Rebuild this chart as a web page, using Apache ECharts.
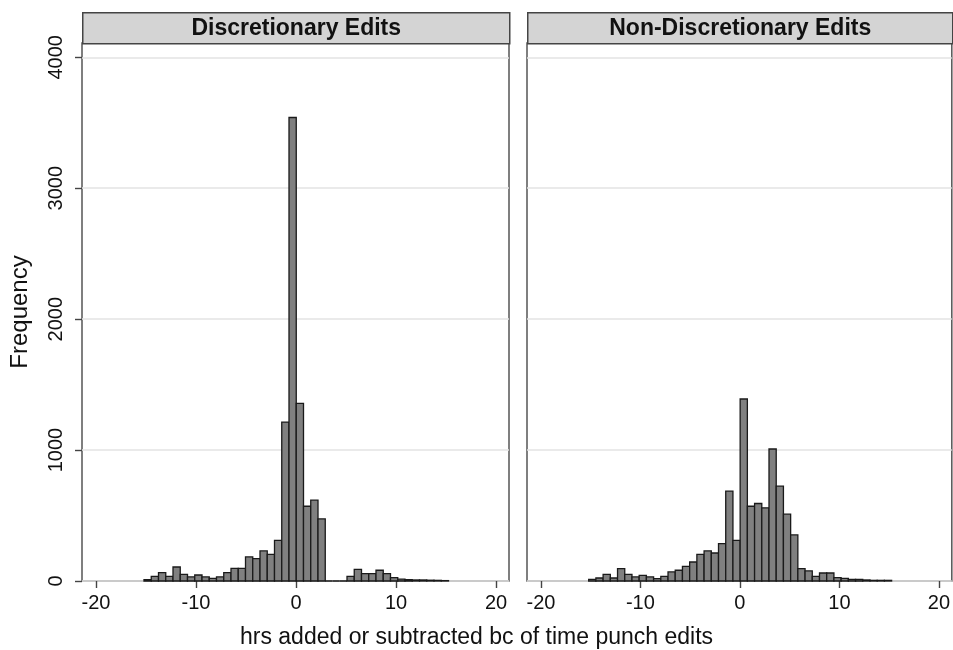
<!DOCTYPE html>
<html>
<head>
<meta charset="utf-8">
<script src="https://cdn.jsdelivr.net/npm/echarts@6/dist/echarts.min.js"></script>
<style>
html,body{margin:0;padding:0;background:#fff;}
#chart{width:953px;height:650px;}
</style>
</head>
<body>
<div id="chart"></div>
<script>
// Histogram bins (hours)
const binStart = -15.2;
const binWidth = 0.725;
const panelTitles = ['Discretionary Edits', 'Non-Discretionary Edits'];
const xTicks = [-20, -10, 0, 10, 20];
const yTicks = [0, 1000, 2000, 3000, 4000];
const xTitle = 'hrs added or subtracted bc of time punch edits';
const yTitle = 'Frequency';

// Frequencies per bin, left to right
const discretionary = [10, 36, 64, 36, 107, 51, 31, 46, 31, 20, 31, 64, 97, 97, 184, 171, 230, 204, 311, 1214, 3540,
  1357, 571, 617, 474, 0, 0, 0, 36, 89, 56, 56, 82, 56, 26, 15, 10, 8, 8, 6, 5, 3];
const nonDiscretionary = [13, 23, 51, 23, 94, 51, 31, 43, 31, 18, 36, 69, 82, 112, 145, 204, 230, 214, 286, 686, 311,
  1390, 571, 592, 559, 1008, 724, 510, 352, 94, 77, 36, 61, 61, 26, 20, 13, 13, 8, 5, 5, 5];

function toBins(counts) {
  return counts.map((c, i) => [binStart + i * binWidth, binStart + (i + 1) * binWidth, c]);
}

const FONT = 'Liberation Sans, Arial, Helvetica, sans-serif';
const chart = echarts.init(document.getElementById('chart'), null, {renderer: 'canvas'});

const grids = [
  {left: 82, top: 43, width: 427, height: 538},
  {left: 527, top: 43, width: 425, height: 538}
];

function xAxisCfg(idx) {
  return {
    type: 'value', gridIndex: idx, min: -21.4, max: 21.3, position: 'bottom',
    axisLine: {show: false, onZero: false},
    axisTick: {show: true, length: 7, lineStyle: {color: '#444', width: 1.4}, customValues: xTicks},
    axisLabel: {customValues: xTicks, color: '#111', fontSize: 20, fontFamily: FONT, margin: 12,
      formatter: v => String(v)},
    splitLine: {show: false}
  };
}
function yAxisCfg(idx) {
  return {
    type: 'value', gridIndex: idx, min: 0, max: 4109, position: 'left',
    name: idx === 0 ? yTitle : '',
    nameLocation: 'middle', nameRotate: 90, nameGap: 50,
    nameTextStyle: {fontSize: 24, color: '#111', fontFamily: FONT},
    axisLine: {show: false, onZero: false},
    axisTick: {show: idx === 0, length: 7, lineStyle: {color: '#444', width: 1.4}, customValues: yTicks},
    axisLabel: {show: idx === 0, customValues: yTicks, rotate: 90, color: '#111', fontSize: 20, fontFamily: FONT, margin: 16,
      formatter: v => String(v)},
    splitLine: {show: true, lineStyle: {color: '#e3e3e3', width: 1.5}}
  };
}

function histSeries(idx, counts) {
  return {
    type: 'custom', coordinateSystem: 'cartesian2d', xAxisIndex: idx, yAxisIndex: idx,
    encode: {x: [0, 1], y: 2},
    data: toBins(counts),
    renderItem: function (params, api) {
      const p0 = api.coord([api.value(0), api.value(2)]);
      const p1 = api.coord([api.value(1), 0]);
      return {
        type: 'rect',
        shape: {x: p0[0], y: p0[1], width: p1[0] - p0[0], height: p1[1] - p0[1]},
        style: {fill: '#808080', stroke: '#1a1a1a', lineWidth: 1.3}
      };
    }
  };
}

function strip(g, title) {
  return {
    type: 'group', left: g.left, top: 12,
    children: [
      {type: 'rect', shape: {x: 0, y: 0, width: g.width, height: 31},
        style: {fill: '#d4d4d4', stroke: '#444', lineWidth: 1.5}},
      {type: 'text', x: g.width / 2, y: 16,
        style: {text: title, fill: '#111', font: 'bold 23px ' + FONT, textAlign: 'center', textVerticalAlign: 'middle'}}
    ]
  };
}

chart.setOption({
  backgroundColor: '#fff',
  animation: false,
  grid: grids.map(g => Object.assign({show: true, borderColor: '#555', borderWidth: 1.5, backgroundColor: '#fff'}, g)),
  xAxis: [xAxisCfg(0), xAxisCfg(1)],
  yAxis: [yAxisCfg(0), yAxisCfg(1)],
  series: [histSeries(0, discretionary), histSeries(1, nonDiscretionary)],
  graphic: [
    strip(grids[0], panelTitles[0]),
    strip(grids[1], panelTitles[1]),
    {type: 'text', left: 'center', top: 626,
      style: {text: xTitle, fill: '#111', font: '23px ' + FONT}}
  ]
});
</script>
</body>
</html>
